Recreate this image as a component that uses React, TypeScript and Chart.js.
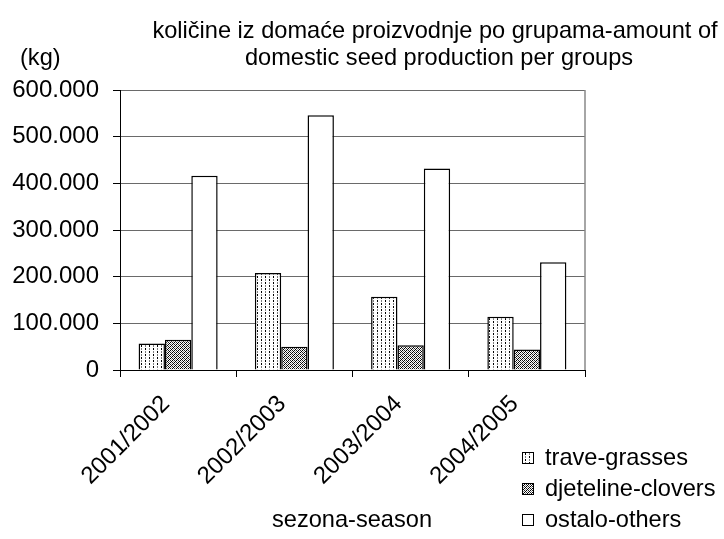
import React, { useEffect, useRef } from "react";
import { Chart, registerables } from "chart.js";

Chart.register(...registerables);

const categories = ["2001/2002", "2002/2003", "2003/2004", "2004/2005"];
const traveGrasses = [57000, 208000, 157000, 114000];
const djetelineClovers = [65000, 50000, 53000, 44000];
const ostaloOthers = [416000, 546000, 432000, 231000];
const seriesNames = ["trave-grasses", "djeteline-clovers", "ostalo-others"];
const titleLines = [
  "količine iz domaće proizvodnje po grupama-amount of",
  "domestic seed production per groups",
];
const unitLabel = "(kg)";
const xAxisTitle = "sezona-season";
const yMax = 600000;
const yStep = 100000;

const FONT = "'Liberation Sans', Arial, sans-serif";
const TXT = 23.6;

function makeTile(w: number, h: number, fn: (x: number, y: number) => string | null) {
  const c = document.createElement("canvas");
  c.width = w;
  c.height = h;
  const ctx = c.getContext("2d")!;
  ctx.fillStyle = "#ffffff";
  ctx.fillRect(0, 0, w, h);
  for (let y = 0; y < h; y++) {
    for (let x = 0; x < w; x++) {
      const col = fn(x, y);
      if (col) {
        ctx.fillStyle = col;
        ctx.fillRect(x, y, 1, 1);
      }
    }
  }
  return ctx.createPattern(c, "repeat")!;
}

function fmt(v: number) {
  return String(Math.round(v)).replace(/\B(?=(\d{3})+(?!\d))/g, ".");
}

export default function App() {
  const ref = useRef<HTMLCanvasElement | null>(null);

  useEffect(() => {
    if (!ref.current) return;
    const grassPattern = makeTile(8, 6, (x, y) => {
      if (x === 1 && y < 2) return "#000000";
      if (x === 1 && (y === 3 || y === 4)) return "#808080";
      if (x === 5 && (y === 3 || y === 4)) return "#000000";
      if (x === 5 && y < 2) return "#808080";
      return null;
    });
    const cloverPattern = makeTile(4, 4, (x, y) => {
      const m = (x + y) % 4;
      if (m === 0) return "#000000";
      if (m === 2) return x % 2 === 0 ? "#222222" : "#888888";
      return null;
    });
    const fills = [grassPattern, cloverPattern, "#ffffff"];

    const textPlugin = {
      id: "texts",
      afterDraw(chart: any) {
        const ctx = chart.ctx as CanvasRenderingContext2D;
        const area = chart.chartArea;
        ctx.save();
        ctx.strokeStyle = "#888888";
        ctx.lineWidth = 1.5;
        ctx.beginPath();
        ctx.moveTo(area.right, area.top);
        ctx.lineTo(area.right, area.bottom);
        ctx.stroke();

        ctx.fillStyle = "#000000";
        ctx.font = `${TXT}px ${FONT}`;
        ctx.textAlign = "center";
        ctx.textBaseline = "middle";
        ctx.fillText(titleLines[0], 435, 31);
        ctx.fillText(titleLines[1], 439, 58);
        ctx.textAlign = "left";
        ctx.fillText(unitLabel, 20, 58);
        ctx.textAlign = "center";
        ctx.fillText(xAxisTitle, 352, 520);

        const ys = [458, 489, 520];
        seriesNames.forEach((name, i) => {
          ctx.fillStyle = fills[i] as any;
          ctx.fillRect(522.5, ys[i] - 5.5, 11, 11);
          ctx.strokeStyle = "#000000";
          ctx.lineWidth = 1;
          ctx.strokeRect(522.5, ys[i] - 5.5, 11, 11);
          ctx.fillStyle = "#000000";
          ctx.textAlign = "left";
          ctx.fillText(name, 545, ys[i]);
        });
        ctx.restore();
      },
    };

    const data = [traveGrasses, djetelineClovers, ostaloOthers];
    const chart = new Chart(ref.current, {
      type: "bar",
      data: {
        labels: categories,
        datasets: seriesNames.map((n, i) => ({
          label: n,
          data: data[i],
          backgroundColor: fills[i] as any,
          borderColor: "#000000",
          borderWidth: 1.5,
          categoryPercentage: 0.68,
          barPercentage: 1,
        })),
      },
      options: {
        animation: false,
        responsive: true,
        maintainAspectRatio: false,
        layout: { padding: { top: 90, right: 139, left: 0, bottom: 0 } },
        plugins: {
          legend: { display: false },
          title: { display: false },
          tooltip: { enabled: false },
        },
        scales: {
          x: {
            offset: true,
            grid: {
              offset: true,
              drawOnChartArea: false,
              drawTicks: true,
              tickLength: 7,
              color: "#000000",
              tickColor: "#000000",
            },
            border: { color: "#000000", width: 1 },
            ticks: {
              color: "#000000",
              font: { family: FONT, size: 24 },
              minRotation: 45,
              maxRotation: 45,
              autoSkip: false,
              labelOffset: -12,
              padding: 13,
            },
            afterFit(scale: any) {
              scale.height = 169;
            },
          },
          y: {
            min: 0,
            max: yMax,
            grid: {
              color: "#6a6a6a",
              tickColor: "#000000",
              tickLength: 7,
              lineWidth: 1,
            },
            border: { color: "#000000", width: 1 },
            ticks: {
              stepSize: yStep,
              color: "#000000",
              font: { family: FONT, size: 24 },
              padding: 14,
              callback: (v: any) => fmt(Number(v)),
            },
            afterFit(scale: any) {
              scale.width = 120;
            },
          },
        },
      },
      plugins: [textPlugin],
    });
    return () => chart.destroy();
  }, []);

  return (
    <div style={{ position: "absolute", left: 0, top: 0, width: 724, height: 539, background: "#ffffff" }}>
      <canvas ref={ref} />
    </div>
  );
}
